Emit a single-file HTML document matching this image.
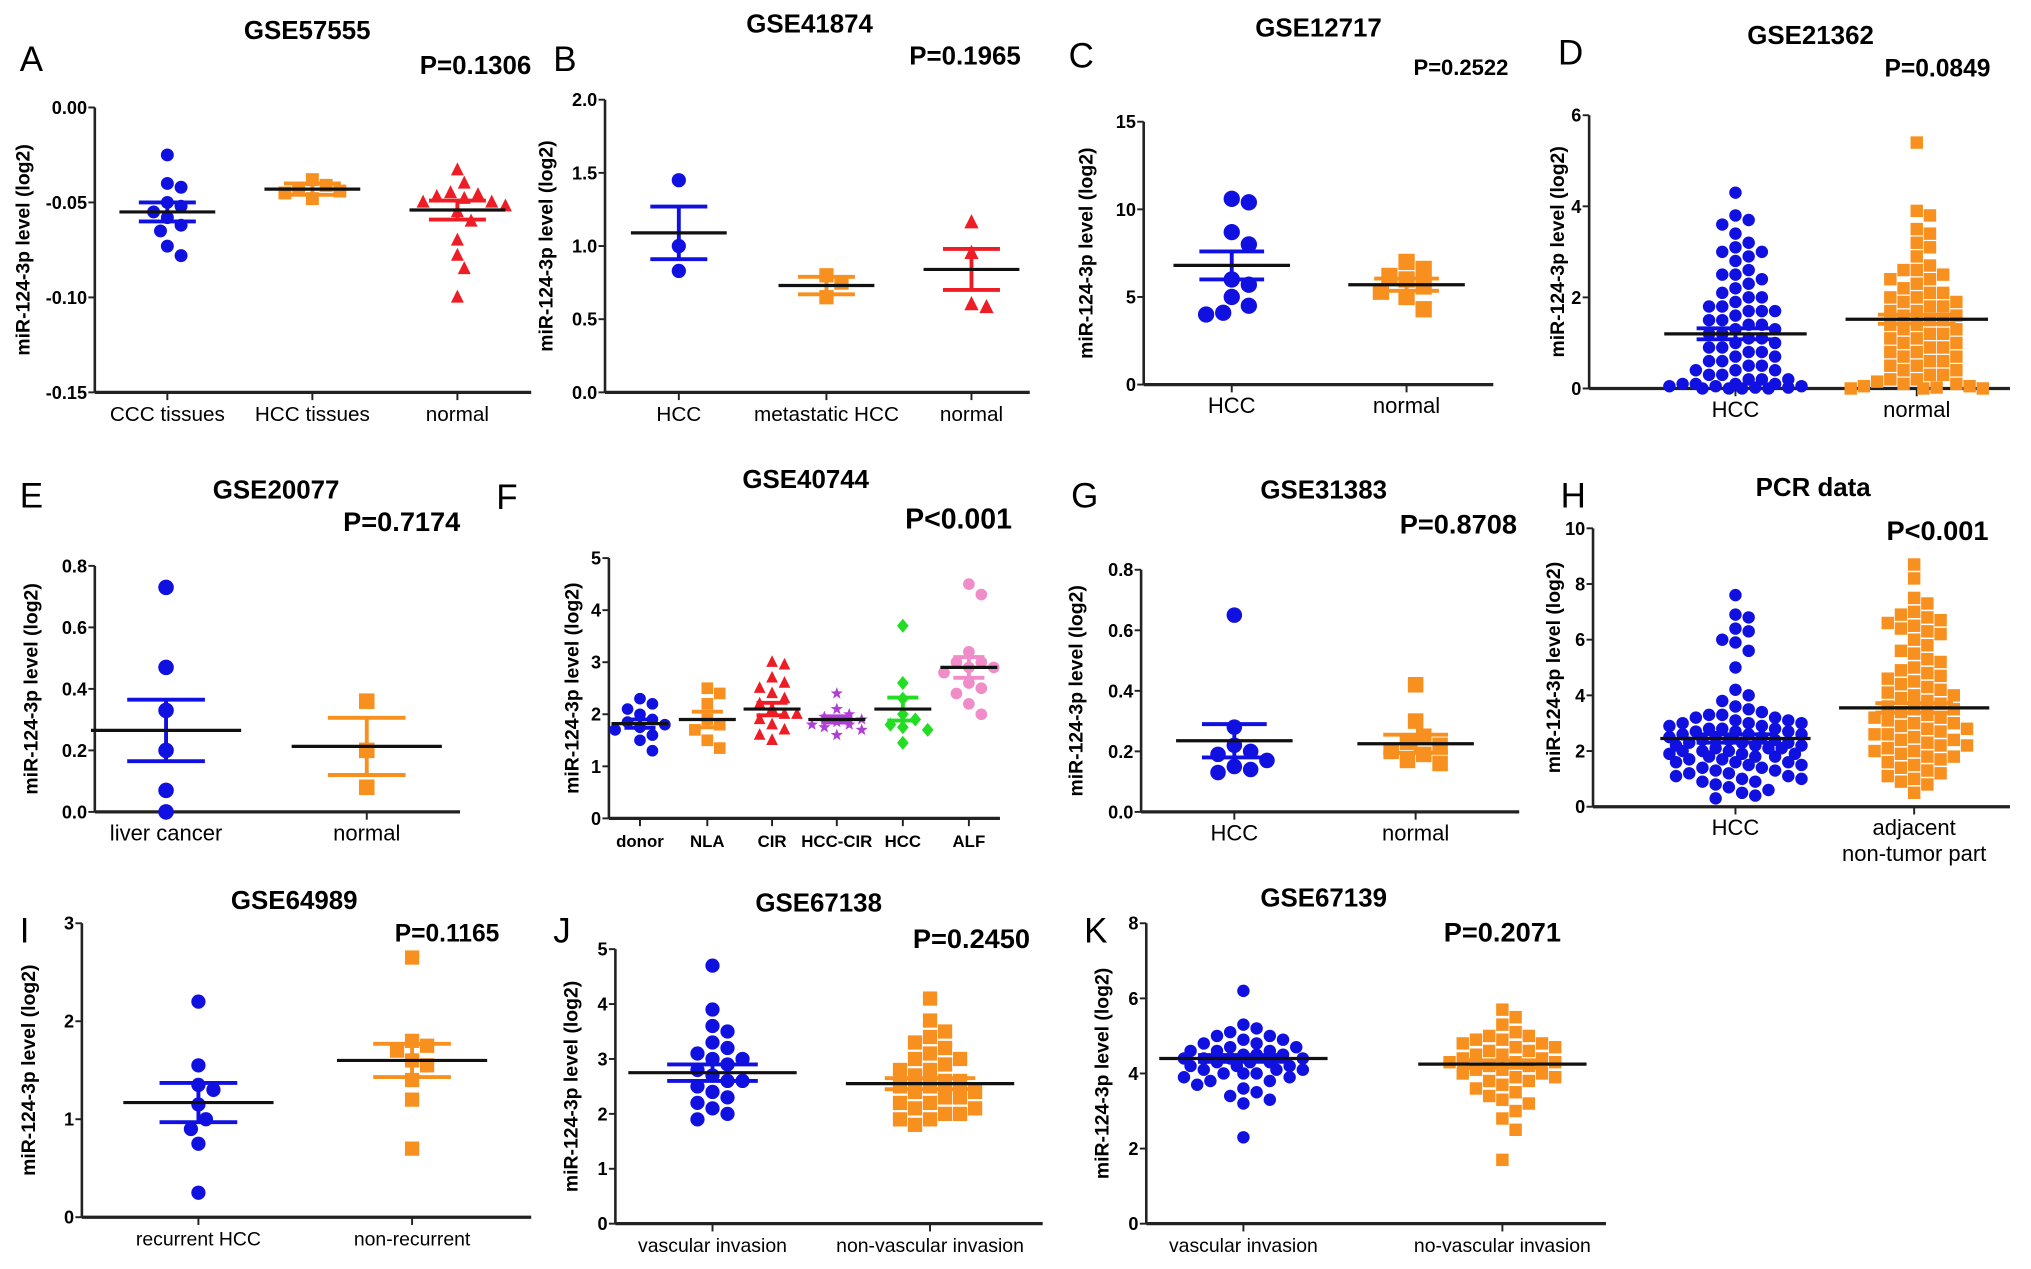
<!DOCTYPE html>
<html><head><meta charset="utf-8"><style>
html,body{margin:0;padding:0;background:#fff}
svg{display:block}
text{font-family:"Liberation Sans",Arial,sans-serif}
</style></head><body>
<svg id="fig" width="2031" height="1269" viewBox="0 0 1568 980" xmlns="http://www.w3.org/2000/svg"></svg>
<script>
// ---- data ----
const A_ccc=[-0.025,-0.04,-0.042,-0.05,-0.052,-0.055,-0.058,-0.062,-0.065,-0.073,-0.078];
const A_hcc=[-0.038,-0.041,-0.043,-0.044,-0.045,-0.048];
const A_nor=[-0.033,-0.04,-0.045,-0.046,-0.047,-0.048,-0.05,-0.05,-0.052,-0.055,-0.06,-0.07,-0.078,-0.085,-0.1];
const B_hcc=[1.45,1.0,0.83];const B_met=[0.8,0.75,0.65];const B_nor=[1.16,0.95,0.6,0.58];
const C_hcc=[10.6,10.4,8.7,8.0,6.0,5.7,5.0,4.5,4.1,4.0];const C_nor=[7.0,6.6,6.2,6.0,5.6,5.3,5.0,4.3];
const D_hcc=[4.3,3.8,3.7,3.6,3.4,3.2,3.1,3.0,3.0,2.9,2.8,2.6,2.5,2.5,2.4,2.3,2.2,2.1,2.0,2.0,1.9,1.8,1.8,1.7,1.7,1.7,1.6,1.5,1.5,1.4,1.4,1.3,1.3,1.2,1.2,1.1,1.1,1.0,1.0,0.9,0.9,0.8,0.8,0.7,0.7,0.6,0.6,0.5,0.5,0.4,0.4,0.4,0.3,0.3,0.2,0.2,0.2,0.1,0.1,0.1,0.1,0.05,0.05,0.05,0.02,0.02,0.0,0.0,0.0,0.0];
const D_nor=[5.4,3.9,3.8,3.5,3.4,3.2,3.1,2.9,2.7,2.6,2.6,2.5,2.4,2.4,2.3,2.2,2.1,2.1,2.0,2.0,1.9,1.9,1.8,1.8,1.7,1.7,1.6,1.6,1.5,1.5,1.4,1.4,1.3,1.3,1.2,1.2,1.1,1.1,1.0,1.0,0.9,0.9,0.8,0.8,0.7,0.7,0.6,0.6,0.5,0.5,0.4,0.4,0.3,0.3,0.2,0.2,0.15,0.1,0.1,0.05,0.05,0.02,0.0,0.0,0.0];
const E_liv=[0.73,0.47,0.33,0.2,0.07,0.0];const E_nor=[0.36,0.2,0.08];
const F_donor=[2.3,2.2,2.1,2.0,1.9,1.85,1.8,1.75,1.7,1.6,1.5,1.3];
const F_nla=[2.5,2.4,2.2,1.9,1.8,1.7,1.5,1.35];
const F_cir=[3.0,2.95,2.7,2.6,2.5,2.4,2.3,2.2,2.1,2.0,2.0,1.9,1.8,1.7,1.6,1.5];
const F_hcccir=[2.4,2.1,2.0,1.95,1.9,1.85,1.8,1.8,1.75,1.7,1.6];
const F_hcc=[3.7,2.6,2.3,2.0,1.9,1.8,1.75,1.7,1.45];
const F_alf=[4.5,4.3,3.2,3.0,3.0,2.9,2.9,2.8,2.6,2.5,2.4,2.2,2.0];
const G_hcc=[0.65,0.28,0.22,0.2,0.19,0.17,0.15,0.14,0.13];const G_nor=[0.42,0.3,0.25,0.23,0.22,0.2,0.19,0.17,0.16];
const H_hcc=[7.6,6.9,6.8,6.4,6.3,6.0,5.9,5.6,5.0,4.2,4.0,3.8,3.6,3.5,3.4,3.3,3.3,3.2,3.2,3.1,3.1,3.0,3.0,3.0,2.9,2.9,2.8,2.8,2.8,2.7,2.7,2.7,2.6,2.6,2.6,2.5,2.5,2.5,2.4,2.4,2.4,2.3,2.3,2.3,2.2,2.2,2.2,2.1,2.1,2.1,2.0,2.0,2.0,1.9,1.9,1.9,1.8,1.8,1.8,1.7,1.7,1.6,1.6,1.6,1.5,1.5,1.4,1.4,1.3,1.3,1.2,1.2,1.1,1.1,1.0,1.0,0.9,0.9,0.8,0.7,0.6,0.5,0.4,0.3];
const H_adj=[8.7,8.2,7.5,7.3,7.0,6.9,6.8,6.7,6.6,6.5,6.4,6.3,6.2,6.0,5.8,5.6,5.5,5.3,5.2,5.0,4.9,4.8,4.7,4.6,4.5,4.4,4.3,4.2,4.1,4.0,4.0,3.9,3.8,3.7,3.6,3.5,3.5,3.4,3.3,3.2,3.2,3.1,3.0,3.0,2.9,2.8,2.8,2.7,2.6,2.6,2.5,2.4,2.4,2.3,2.2,2.2,2.1,2.0,2.0,1.9,1.8,1.8,1.7,1.6,1.5,1.4,1.3,1.2,1.1,1.0,0.9,0.8,0.5];
const I_rec=[2.2,1.55,1.35,1.3,1.15,1.0,0.9,0.75,0.25];const I_non=[2.65,1.8,1.75,1.7,1.6,1.55,1.4,1.2,0.7];
const J_vas=[4.7,3.9,3.6,3.5,3.3,3.2,3.1,3.0,3.0,2.9,2.8,2.7,2.6,2.6,2.5,2.4,2.3,2.2,2.1,2.0,1.9];
const J_non=[4.1,3.7,3.5,3.4,3.3,3.2,3.1,3.0,3.0,2.9,2.8,2.8,2.7,2.6,2.6,2.5,2.5,2.4,2.4,2.3,2.3,2.2,2.2,2.1,2.1,2.0,2.0,1.9,1.9,1.8];
const K_vas=[6.2,5.3,5.2,5.1,5.0,5.0,4.9,4.9,4.8,4.8,4.7,4.7,4.6,4.6,4.6,4.5,4.5,4.5,4.4,4.4,4.4,4.4,4.3,4.3,4.3,4.2,4.2,4.2,4.1,4.1,4.1,4.0,4.0,4.0,3.9,3.9,3.8,3.8,3.7,3.6,3.5,3.4,3.3,3.2,2.3];
const K_non=[5.7,5.5,5.3,5.1,5.0,5.0,4.9,4.9,4.8,4.8,4.7,4.7,4.6,4.6,4.5,4.5,4.4,4.4,4.3,4.3,4.3,4.2,4.2,4.1,4.1,4.0,4.0,3.9,3.9,3.8,3.8,3.7,3.6,3.5,3.4,3.3,3.2,3.0,2.8,2.5,1.7];
// means and SEM
const A_mean=[-0.055,-0.043,-0.054],A_sem=[0.005,0.003,0.005];
const B_mean=[1.09,0.73,0.84],B_sem=[0.18,0.06,0.14];
const C_mean=[6.8,5.7],C_sem=[0.8,0.35];
const D_mean=[1.2,1.52],D_sem=[0.12,0.1];
const E_mean=[0.265,0.213],E_sem=[0.1,0.093];
const F_mean=[1.82,1.9,2.1,1.9,2.1,2.9],F_sem=[0.08,0.15,0.12,0.06,0.22,0.2];
const G_mean=[0.235,0.225],G_sem=[0.055,0.03];
const H_mean=[2.45,3.55],H_sem=[0.15,0.17];
const I_mean=[1.17,1.6],I_sem=[0.2,0.17];
const J_mean=[2.75,2.55],J_sem=[0.15,0.1];
const K_mean=[4.4,4.25],K_sem=[0.09,0.1];

const BL='#1010e0',OR='#f7901e',RD='#ee1c25',PU='#b03fd6',GR='#22dd22',PK='#f08cc8';
const panels=[
{id:'a',letter:'A',lx:15,ly:55,title:'GSE57555',tx:237,ty:30,p:'P=0.1306',px:367,py:57,ps:20,x0:73,x1:410,cx:[129,241,353],yT:83,yB:303,vmin:-0.15,vmax:0,ticks:[0,-0.05,-0.1,-0.15],tl:['0.00','-0.05','-0.10','-0.15'],cats:['CCC tissues','HCC tissues','normal'],data:[A_ccc,A_hcc,A_nor],mean:A_mean,sem:A_sem,col:[BL,OR,RD],mk:['c','s','t'],r:5,hw:37,sw:22,ytx:18,cs:16,mw:40},
{id:'b',letter:'B',lx:427,ly:55,title:'GSE41874',tx:625,ty:25,p:'P=0.1965',px:745,py:50,ps:20,x0:467,x1:795,cx:[524,638,750],yT:77,yB:303,vmin:0,vmax:2,ticks:[0,0.5,1,1.5,2],tl:['0.0','0.5','1.0','1.5','2.0'],cats:['HCC','metastatic HCC','normal'],data:[B_hcc,B_met,B_nor],mean:B_mean,sem:B_sem,col:[BL,OR,RD],mk:['c','s','t'],r:5.5,hw:37,sw:22,ytx:422,cs:16,mw:40},
{id:'c',letter:'C',lx:825,ly:52,title:'GSE12717',tx:1018,ty:28,p:'P=0.2522',px:1128,py:58,ps:17,x0:883,x1:1153,cx:[951,1086],yT:94,yB:297,vmin:0,vmax:15,ticks:[0,5,10,15],tl:['0','5','10','15'],cats:['HCC','normal'],data:[C_hcc,C_nor],mean:C_mean,sem:C_sem,col:[BL,OR],mk:['c','s'],r:6.3,hw:45,sw:25,ytx:839,cs:17,mw:50},
{id:'d',letter:'D',lx:1203,ly:50,title:'GSE21362',tx:1398,ty:34,p:'P=0.0849',px:1496,py:59,ps:19,x0:1227,x1:1552,cx:[1340,1480],yT:89,yB:300,vmin:0,vmax:6,ticks:[0,2,4,6],tl:['0','2','4','6'],cats:['HCC','normal'],data:[D_hcc,D_nor],mean:D_mean,sem:D_sem,col:[BL,OR],mk:['c','s'],r:4.8,hw:55,sw:30,ytx:1203,cs:17,mw:58},
{id:'e',letter:'E',lx:15,ly:392,title:'GSE20077',tx:213,ty:385,p:'P=0.7174',px:310,py:410,ps:21,x0:73,x1:355,cx:[128,283],yT:437,yB:627,vmin:0,vmax:0.8,ticks:[0,0.2,0.4,0.6,0.8],tl:['0.0','0.2','0.4','0.6','0.8'],cats:['liver cancer','normal'],data:[E_liv,E_nor],mean:E_mean,sem:E_sem,col:[BL,OR],mk:['c','s'],r:6,hw:58,sw:30,ytx:24,cs:17,mw:50},
{id:'f',letter:'F',lx:383,ly:393,title:'GSE40744',tx:622,ty:377,p:'P<0.001',px:740,py:408,ps:22,x0:470,x1:772,cx:[494,546,596,646,697,748],yT:431,yB:632,vmin:0,vmax:5,ticks:[0,1,2,3,4,5],tl:['0','1','2','3','4','5'],cats:['donor','NLA','CIR','HCC-CIR','HCC','ALF'],data:[F_donor,F_nla,F_cir,F_hcccir,F_hcc,F_alf],mean:F_mean,sem:F_sem,col:[BL,OR,RD,PU,GR,PK],mk:['c','s','t','x','d','c'],r:4.5,hw:22,sw:12,ytx:442,cs:13,mw:22},
{id:'g',letter:'G',lx:827,ly:392,title:'GSE31383',tx:1022,ty:385,p:'P=0.8708',px:1126,py:412,ps:21,x0:881,x1:1173,cx:[953,1093],yT:440,yB:627,vmin:0,vmax:0.8,ticks:[0,0.2,0.4,0.6,0.8],tl:['0.0','0.2','0.4','0.6','0.8'],cats:['HCC','normal'],data:[G_hcc,G_nor],mean:G_mean,sem:G_sem,col:[BL,OR],mk:['c','s'],r:6,hw:45,sw:25,ytx:831,cs:17,mw:45},
{id:'h',letter:'H',lx:1205,ly:392,title:'PCR data',tx:1400,ty:383,p:'P<0.001',px:1496,py:417,ps:21,x0:1230,x1:1552,cx:[1340,1478],yT:408,yB:623,vmin:0,vmax:10,ticks:[0,2,4,6,8,10],tl:['0','2','4','6','8','10'],cats:['HCC',['adjacent','non-tumor part']],data:[H_hcc,H_adj],mean:H_mean,sem:H_sem,col:[BL,OR],mk:['c','s'],r:4.8,hw:58,sw:30,ytx:1200,cs:17,mw:55},
{id:'i',letter:'I',lx:15,ly:728,title:'GSE64989',tx:227,ty:702,p:'P=0.1165',px:345,py:727,ps:19,x0:63,x1:410,cx:[153,318],yT:713,yB:940,vmin:0,vmax:3,ticks:[0,1,2,3],tl:['0','1','2','3'],cats:['recurrent HCC','non-recurrent'],data:[I_rec,I_non],mean:I_mean,sem:I_sem,col:[BL,OR],mk:['c','s'],r:5.5,hw:58,sw:30,ytx:22,cs:15,mw:50},
{id:'j',letter:'J',lx:427,ly:728,title:'GSE67138',tx:632,ty:704,p:'P=0.2450',px:750,py:732,ps:21,x0:475,x1:805,cx:[550,718],yT:733,yB:945,vmin:0,vmax:5,ticks:[0,1,2,3,4,5],tl:['0','1','2','3','4','5'],cats:['vascular invasion','non-vascular invasion'],data:[J_vas,J_non],mean:J_mean,sem:J_sem,col:[BL,OR],mk:['c','s'],r:5.5,hw:65,sw:35,ytx:441,cs:15,mw:42},
{id:'k',letter:'K',lx:837,ly:728,title:'GSE67139',tx:1022,ty:700,p:'P=0.2071',px:1160,py:727,ps:21,x0:885,x1:1240,cx:[960,1160],yT:713,yB:945,vmin:0,vmax:8,ticks:[0,2,4,6,8],tl:['0','2','4','6','8'],cats:['vascular invasion','no-vascular invasion'],data:[K_vas,K_non],mean:K_mean,sem:K_sem,col:[BL,OR],mk:['c','s'],r:4.8,hw:65,sw:35,ytx:851,cs:15,mw:48}
];
const NS='http://www.w3.org/2000/svg';
const svg=document.getElementById('fig');
function mk(tag,attrs,parent){const e=document.createElementNS(NS,tag);for(const k in attrs)e.setAttribute(k,attrs[k]);(parent||svg).appendChild(e);return e;}
panels.forEach(P=>{
  const g=mk('g',{});
  
  
  const y=v=>P.yB-(v-P.vmin)/(P.vmax-P.vmin)*(P.yB-P.yT);
  let t=mk('text',{x:P.lx,y:P.ly,'font-size':27,fill:'#000'},g);t.textContent=P.letter;
  
  t=mk('text',{x:P.tx,y:P.ty,'font-size':20,'font-weight':'bold','text-anchor':'middle'},g);t.textContent=P.title;
  
  t=mk('text',{x:P.px,y:P.py,'font-size':P.ps,'font-weight':'bold','text-anchor':'middle'},g);t.textContent=P.p;
  
  const cy=(P.yT+P.yB)/2;
  t=mk('text',{x:P.ytx,y:cy,'font-size':15,'font-weight':'bold','text-anchor':'middle',transform:`rotate(-90 ${P.ytx} ${cy})`,'dominant-baseline':'central'},g);t.textContent='miR-124-3p level (log2)';
  
  let l=mk('line',{x1:P.x0,y1:P.yT,x2:P.x0,y2:P.yB,stroke:'#222','stroke-width':2},g);
  
  l=mk('line',{x1:P.x0,y1:P.yB,x2:P.x1,y2:P.yB,stroke:'#222','stroke-width':2.5},g);
  
  P.ticks.forEach((v,i)=>{
    mk('line',{x1:P.x0-5,x2:P.x0,y1:y(v),y2:y(v),stroke:'#222','stroke-width':1.5},g);
    const tt=mk('text',{x:P.x0-6,y:y(v)+5,'font-size':14,'font-weight':'bold','text-anchor':'end'},g);tt.textContent=P.tl[i];
    
  });
  P.cats.forEach((c,i)=>{
    const x=P.cx[i];
    mk('line',{x1:x,x2:x,y1:P.yB,y2:P.yB+6,stroke:'#222','stroke-width':1.5},g);
    const lines=Array.isArray(c)?c:[c];
    lines.forEach((s,j)=>{const tt=mk('text',{x:x,y:P.yB+22+j*20,'font-size':P.cs,'text-anchor':'middle','font-weight':P.id==='f'?'bold':'normal'},g);tt.textContent=s;
      });
    // beeswarm with capped width
    const vals=P.data[i].slice().sort((a,b)=>b-a);
    const placed=[];const d=P.r*2+0.6;
    vals.forEach(v=>{
      const py=y(v);let best=0,bestScore=-1;
      for(let k=0;k<400;k++){
        const o=k===0?0:(k%2?1:-1)*Math.ceil(k/2)*d*0.5;
        if(Math.abs(o)>P.mw)break;
        let md=Infinity;placed.forEach(p=>{md=Math.min(md,Math.hypot(p[0]-o,p[1]-py));});
        if(md>=d){best=o;bestScore=Infinity;break;}
        if(md>bestScore){bestScore=md;best=o;}
      }
      placed.push([best,py]);
      const px=x+best,col=P.col[i],r=P.r,m=P.mk[i];let e;
      if(m==='c')e=mk('circle',{cx:px,cy:py,r:r,fill:col},g);
      else if(m==='s')e=mk('rect',{x:px-r,y:py-r,width:2*r,height:2*r,fill:col},g);
      else if(m==='t')e=mk('polygon',{points:`${px},${py-r*1.2} ${px-r},${py+r*0.8} ${px+r},${py+r*0.8}`,fill:col},g);
      else if(m==='d')e=mk('polygon',{points:`${px},${py-r*1.2} ${px+r},${py} ${px},${py+r*1.2} ${px-r},${py}`,fill:col},g);
      else {let pts=[];for(let q=0;q<10;q++){const a=-Math.PI/2+q*Math.PI/5,rr=q%2?r*0.45:r*1.1;pts.push((px+rr*Math.cos(a)).toFixed(1)+','+(py+rr*Math.sin(a)).toFixed(1));}e=mk('polygon',{points:pts.join(' '),fill:col},g);}
      
    });
    // SEM error bars
    const m=P.mean[i],s=P.sem[i],col=P.col[i];
    const eb=mk('g',{stroke:col,'stroke-width':3,fill:'none'},g);
    
    mk('line',{x1:x,x2:x,y1:y(m+s),y2:y(m-s)},eb);
    mk('line',{x1:x-P.sw,x2:x+P.sw,y1:y(m+s),y2:y(m+s)},eb);
    mk('line',{x1:x-P.sw,x2:x+P.sw,y1:y(m-s),y2:y(m-s)},eb);
    const ml=mk('line',{x1:x-P.hw,x2:x+P.hw,y1:y(m),y2:y(m),stroke:'#111','stroke-width':2.5},g);
    
  });
});
</script>
</body></html>
